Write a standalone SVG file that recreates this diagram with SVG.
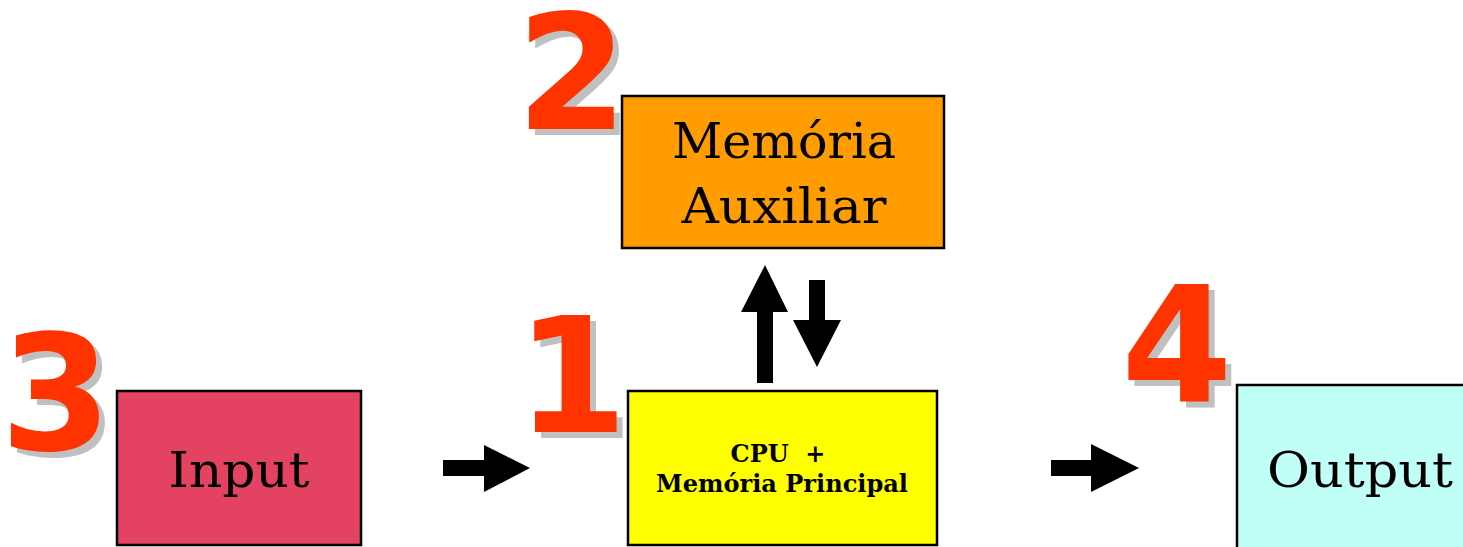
<svg xmlns="http://www.w3.org/2000/svg" width="1463" height="547" viewBox="0 0 1463 547">
<defs>
<style>
.box{stroke:#000;stroke-width:2.5}
.lbl{font-family:"DejaVu Serif","Liberation Serif",serif;font-size:48px;fill:#000;text-anchor:middle}
.cpu{font-family:"DejaVu Serif","Liberation Serif",serif;font-size:24px;font-weight:bold;fill:#000;text-anchor:middle}
.num{font-family:"DejaVu Sans","Liberation Sans",sans-serif;font-size:160px;font-weight:bold;text-anchor:middle}
.sh{fill:#c0c0c0}
.rd{fill:#ff3300}
.arr{fill:#000}
</style>
</defs>
<rect width="1463" height="547" fill="#fff"/>
<g id="node-aux">
<text class="num sh" x="578" y="135">2</text>
<text class="num rd" x="572" y="129">2</text>
<rect class="box" x="622" y="96" width="322" height="152" fill="#ff9c00"/>
<text class="lbl" x="784" y="158" textLength="224" lengthAdjust="spacingAndGlyphs">Memória</text>
<text class="lbl" x="784" y="223" textLength="205" lengthAdjust="spacingAndGlyphs">Auxiliar</text>
</g>
<g id="node-input">
<text class="num sh" x="62" y="456">3</text>
<text class="num rd" x="56" y="450">3</text>
<rect class="box" x="117" y="391" width="244" height="154" fill="#e34260"/>
<text class="lbl" x="239" y="487" textLength="141" lengthAdjust="spacingAndGlyphs">Input</text>
</g>
<g id="node-cpu">
<text class="num sh" x="578" y="438">1</text>
<text class="num rd" x="572" y="432">1</text>
<rect class="box" x="628" y="391" width="309" height="154" fill="#ffff00"/>
<text class="cpu" x="778" y="462" xml:space="preserve">CPU  +</text>
<text class="cpu" x="782" y="492" textLength="252" lengthAdjust="spacingAndGlyphs">Memória Principal</text>
</g>
<g id="node-output">
<text class="num sh" x="1183" y="407">4</text>
<text class="num rd" x="1177" y="401">4</text>
<rect class="box" x="1237" y="385" width="240" height="170" fill="#c0fff6"/>
<text class="lbl" x="1360" y="487" textLength="186" lengthAdjust="spacingAndGlyphs">Output</text>
</g>
<g id="connectors">
<polygon class="arr" points="443,460 484,460 484,445 530,468 484,492 484,476 443,476"/>
<polygon class="arr" points="1051,460 1091,460 1091,444 1139,468 1091,492 1091,476 1051,476"/>
<polygon class="arr" points="757,383 757,312 741,312 765,265 788,312 773,312 773,383"/>
<polygon class="arr" points="809,280 825,280 825,320 841,320 817,367 793,320 809,320"/>
</g>
</svg>
